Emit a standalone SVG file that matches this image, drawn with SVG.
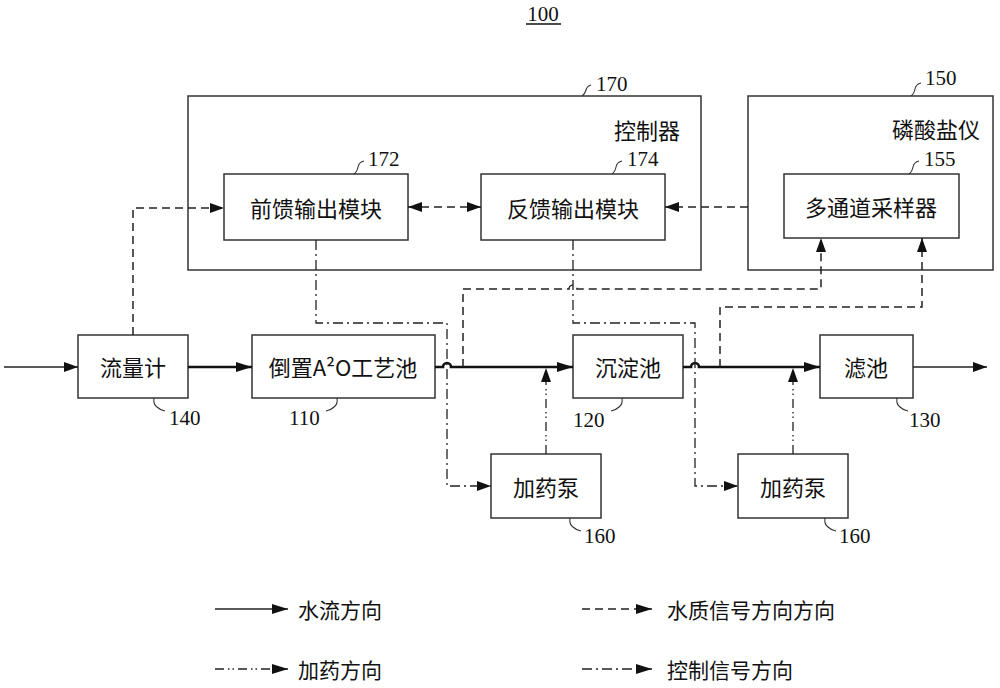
<svg xmlns="http://www.w3.org/2000/svg" width="1000" height="688" viewBox="0 0 1000 688">
<style>
.box{fill:#fff;stroke:#333;stroke-width:1.5}
.frame{fill:none;stroke:#333;stroke-width:1.5}
.cn{font-family:"Noto Sans CJK SC","Noto Sans",sans-serif;font-size:22px;fill:#111;text-anchor:middle;dominant-baseline:central}
.lg{font-family:"Noto Sans CJK SC","Noto Sans",sans-serif;font-size:21px;fill:#111;dominant-baseline:central}
.num{font-family:"Liberation Serif",serif;font-size:21px;fill:#111}
.lead{fill:none;stroke:#333;stroke-width:1.1}
.water{fill:none;stroke:#111;stroke-width:2.6}
.thin{fill:none;stroke:#222;stroke-width:1.3}
.dash{fill:none;stroke:#222;stroke-width:1.5;stroke-dasharray:8 5}
.ctrl{fill:none;stroke:#222;stroke-width:1.3;stroke-dasharray:10 4 2 4}
.dose{fill:none;stroke:#222;stroke-width:1.3;stroke-dasharray:9 4 1.5 3 1.5 4}
</style>
<defs>
<marker id="ah" viewBox="0 0 16 10" refX="16" refY="5" markerWidth="16" markerHeight="10" orient="auto-start-reverse" markerUnits="userSpaceOnUse"><path d="M0,0 L16,5 L0,10 z" fill="#111"/></marker>
<marker id="ahs" viewBox="0 0 14 10" refX="14" refY="5" markerWidth="14" markerHeight="10" orient="auto-start-reverse" markerUnits="userSpaceOnUse"><path d="M0,0 L14,5 L0,10 z" fill="#111"/></marker>
</defs>
<rect width="1000" height="688" fill="#fff"/>

<g id="title">
<text class="num" x="543" y="21" text-anchor="middle" font-size="22">100</text>
<line x1="526" y1="24" x2="561" y2="24" stroke="#111" stroke-width="1.3"/>
</g>

<g id="n170">
<rect class="frame" x="188" y="96" width="513" height="174"/>
<text class="cn" x="647" y="129">控制器</text>
<path class="lead" d="M582,96 q3,-2 4,-6 q1,-4 5,-5"/>
<text class="num" x="596" y="91">170</text>
</g>

<g id="n150">
<rect class="frame" x="748" y="96" width="245" height="174"/>
<text class="cn" x="936" y="128">磷酸盐仪</text>
<path class="lead" d="M911,96 q3,-2 4,-7 q1,-5 6,-6"/>
<text class="num" x="925" y="85">150</text>
</g>

<g id="n172">
<rect class="box" x="224" y="174" width="184" height="66"/>
<text class="cn" x="316" y="207">前馈输出模块</text>
<path class="lead" d="M354,174 q3,-2 4,-7 q1,-5 6,-6"/>
<text class="num" x="368" y="166">172</text>
</g>

<g id="n174">
<rect class="box" x="481" y="174" width="184" height="66"/>
<text class="cn" x="573" y="207">反馈输出模块</text>
<path class="lead" d="M612,174 q3,-2 4,-7 q1,-5 6,-6"/>
<text class="num" x="627" y="166">174</text>
</g>

<g id="n155">
<rect class="box" x="784" y="174" width="175" height="64"/>
<text class="cn" x="871" y="206">多通道采样器</text>
<path class="lead" d="M909,174 q3,-2 4,-7 q1,-5 6,-6"/>
<text class="num" x="924" y="166">155</text>
</g>

<g id="n140">
<rect class="box" x="78" y="335" width="110" height="63"/>
<text class="cn" x="133" y="366">流量计</text>
<path class="lead" d="M154,398 q-1,6 3,9 q3,3 8,4"/>
<text class="num" x="169" y="425">140</text>
</g>

<g id="n110">
<rect class="box" x="252" y="335" width="183" height="63"/>
<text class="cn" x="343" y="366">倒置A²O工艺池</text>
<path class="lead" d="M337,398 q1,6 -3,9 q-3,3 -8,4"/>
<text class="num" x="289" y="425">110</text>
</g>

<g id="n120">
<rect class="box" x="573" y="335" width="110" height="63"/>
<text class="cn" x="628" y="366">沉淀池</text>
<path class="lead" d="M622,398 q1,6 -3,9 q-3,3 -8,4"/>
<text class="num" x="573" y="427">120</text>
</g>

<g id="n130">
<rect class="box" x="820" y="335" width="93" height="63"/>
<text class="cn" x="866" y="366">滤池</text>
<path class="lead" d="M897,398 q-1,6 3,9 q3,3 8,4"/>
<text class="num" x="909" y="427">130</text>
</g>

<g id="n160a">
<rect class="box" x="491" y="454" width="110" height="64"/>
<text class="cn" x="546" y="486">加药泵</text>
<path class="lead" d="M570,518 q-1,6 3,9 q3,3 8,4"/>
<text class="num" x="584" y="543">160</text>
</g>

<g id="n160b">
<rect class="box" x="738" y="454" width="110" height="64"/>
<text class="cn" x="793" y="486">加药泵</text>
<path class="lead" d="M825,518 q-1,6 3,9 q3,3 8,4"/>
<text class="num" x="839" y="543">160</text>
</g>

<g id="connectors">
<path class="thin" d="M4,367 H78" marker-end="url(#ahs)"/>
<path class="water" d="M188,367 H252" marker-end="url(#ah)"/>
<path class="water" d="M435,367 H443 a4,4 0 0 1 8,0 H573" marker-end="url(#ah)"/>
<path class="water" d="M683,367 H691 a4,4 0 0 1 8,0 H820" marker-end="url(#ah)"/>
<path class="thin" d="M913,367 H987" marker-end="url(#ahs)"/>
<path class="dash" d="M133,335 V208 H224" marker-end="url(#ahs)"/>
<path class="dash" d="M408,207 H481" marker-start="url(#ahs)" marker-end="url(#ahs)"/>
<path class="dash" d="M748,207 H665" marker-end="url(#ahs)"/>
<path class="dash" d="M463,367 V289 H569 a4,4 0 0 1 8,0 H821 V238" marker-end="url(#ahs)"/>
<path class="dash" d="M720,367 V307 H922 V238" marker-end="url(#ahs)"/>
<path class="ctrl" d="M316,240 V323 H447 V486 H491" marker-end="url(#ahs)"/>
<path class="ctrl" d="M573,240 V323 H695 V486 H738" marker-end="url(#ahs)"/>
<path class="dose" d="M546,454 V368" marker-end="url(#ahs)"/>
<path class="dose" d="M793,454 V368" marker-end="url(#ahs)"/>
</g>

<g id="legend">
<path class="thin" d="M215,609 H288" marker-end="url(#ah)"/>
<text class="lg" x="298" y="609">水流方向</text>
<path class="dash" d="M582,609 H652" stroke-dasharray="7 4" marker-end="url(#ah)"/>
<text class="lg" x="667" y="609">水质信号方向方向</text>
<path class="dose" d="M215,669 H288" marker-end="url(#ah)"/>
<text class="lg" x="298" y="669">加药方向</text>
<path class="ctrl" d="M582,669 H652" marker-end="url(#ah)"/>
<text class="lg" x="667" y="669">控制信号方向</text>
</g>
</svg>
